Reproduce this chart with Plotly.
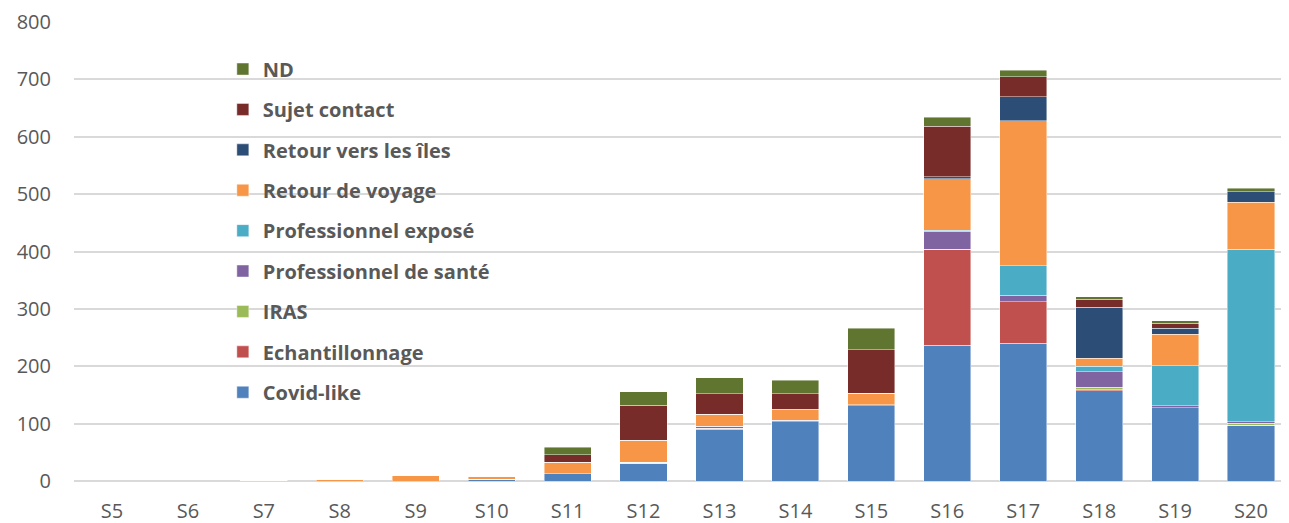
import plotly.graph_objects as go

weeks = ["S5", "S6", "S7", "S8", "S9", "S10", "S11", "S12", "S13", "S14", "S15", "S16", "S17", "S18", "S19", "S20"]

covid_like        = [0, 0, 0, 0, 0, 3, 13, 31, 90, 103, 131, 237, 240, 157, 128, 97]
echantillonnage   = [0, 0, 0, 0, 0, 0, 0, 0, 2, 0, 0, 167, 72, 3, 0, 0]
iras              = [0, 0, 0, 0, 0, 0, 0, 2, 0, 0, 0, 0, 0, 3, 0, 4]
pro_sante         = [0, 0, 0, 0, 0, 0, 0, 0, 3, 3, 2, 31, 12, 27, 3, 2]
pro_expose        = [0, 0, 0, 0, 0, 0, 0, 0, 0, 0, 0, 2, 51, 10, 70, 301]
retour_voyage     = [0, 0, 1, 2, 9, 5, 20, 38, 21, 18, 20, 90, 253, 14, 55, 82]
retour_iles       = [0, 0, 0, 0, 0, 0, 0, 0, 0, 1, 0, 3, 42, 89, 10, 18]
sujet_contact     = [0, 0, 0, 0, 0, 0, 13, 61, 36, 27, 76, 88, 35, 14, 9, 0]
nd                = [0, 0, 0, 0, 0, 0, 13, 24, 28, 24, 37, 16, 11, 4, 4, 6]

series = [
    ("Covid-like", covid_like, "#4F81BD"),
    ("Echantillonnage", echantillonnage, "#C0504D"),
    ("IRAS", iras, "#9BBB59"),
    ("Professionnel de santé", pro_sante, "#8064A2"),
    ("Professionnel exposé", pro_expose, "#4BACC6"),
    ("Retour de voyage", retour_voyage, "#F79646"),
    ("Retour vers les îles", retour_iles, "#2C4D75"),
    ("Sujet contact", sujet_contact, "#772C2A"),
    ("ND", nd, "#5F7530"),
]

fig = go.Figure()
n = len(series)
for i, (name, vals, color) in enumerate(series):
    fig.add_trace(go.Bar(
        x=weeks, y=vals, name=name, legendgroup=f"g{i}", legendrank=100 + n - i,
        marker=dict(color=color, line=dict(color="rgba(255,255,255,0.55)", width=0.8)),
    ))

fig.update_layout(
    width=1281, height=515,
    barmode="stack", bargap=0.38,
    plot_bgcolor="white", paper_bgcolor="white",
    margin=dict(l=66, r=0, t=14, b=42),
    font=dict(family="Open Sans", color="#595959", size=20),
    legend=dict(
        x=0.1225, y=0.94, xanchor="left", yanchor="top",
        traceorder="grouped", tracegroupgap=11.4,
        font=dict(family="Open Sans", size=20, color="#595959", weight="bold"),
        bgcolor="rgba(255,255,255,0)",
    ),
    xaxis=dict(showline=False, ticks="", tickfont=dict(size=20, color="#595959"),
               ticklabelstandoff=16),
    yaxis=dict(range=[0, 800], dtick=100, gridcolor="#D9D9D9", gridwidth=1.5,
               zeroline=True, zerolinecolor="#D9D9D9", zerolinewidth=1.5,
               showline=False, ticks="", tickfont=dict(size=20, color="#595959"),
               ticklabelstandoff=22),
)

fig.write_html("out.html")
